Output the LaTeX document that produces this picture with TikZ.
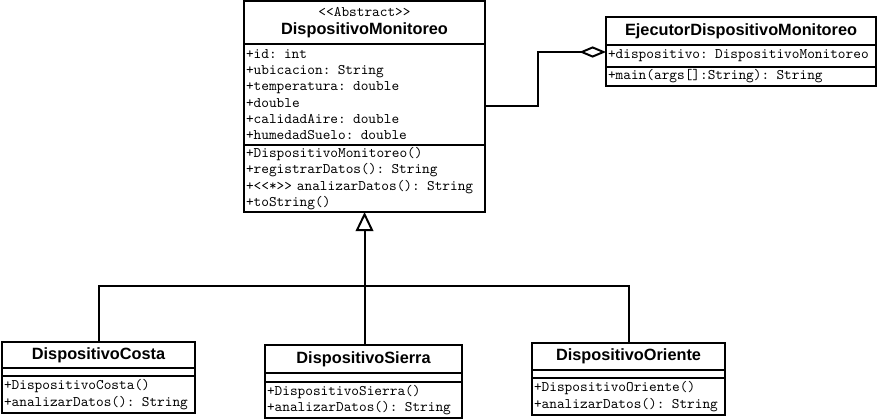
\documentclass[tikz,border=0pt]{standalone}
\usepackage{fontspec}
\setmainfont{Liberation Sans}
\usetikzlibrary{positioning,arrows.meta}

\tikzset{
  classname/.style={draw, line width=1.4pt, outer sep=0pt, anchor=north west, inner sep=0pt,
    align=center, font=\bfseries\fontsize{11.6}{13}\selectfont},
  members/.style={draw, line width=1.4pt, outer sep=0pt, inner xsep=0.05cm, inner ysep=0pt,
    align=left, font=\ttfamily\fontsize{10.4}{11.6}\selectfont},
  link/.style={line width=1.4pt},
  generalize/.style={link, -{Triangle[open, width=12.5pt, length=13.5pt]}},
  aggregate/.style={link, {Diamond[open, width=8pt, length=19pt]}-},
}

\begin{document}
\begin{tikzpicture}[x=0.025cm, y=-0.025cm]
      \useasboundingbox (0,0) rectangle (880,420);

      % Abstract base class
      \node[classname, minimum width=6.025cm, minimum height=1.075cm] (dm) at (244,1)
        {{\ttfamily\mdseries\fontsize{10.4}{11}\selectfont <{}<Abstract>{}>}\\DispositivoMonitoreo};
      \node[members, below=0pt of dm, text width=5.925cm, minimum height=2.525cm] (dmattr)
        {+id: int\\+ubicacion: String\\+temperatura: double\\+double\\+calidadAire: double\\+humedadSuelo: double};
      \node[members, below=0pt of dmattr, text width=5.925cm, minimum height=1.675cm] (dmmeth)
        {+DispositivoMonitoreo()\\+registrarDatos(): String\\+<{}<*>{}> analizarDatos(): String\\+toString()};

      % Runner class
      \node[classname, minimum width=6.75cm, minimum height=0.7cm] (ej) at (606,17)
        {EjecutorDispositivoMonitoreo};
      \node[members, below=0pt of ej, text width=6.65cm, minimum height=0.55cm] (ejattr)
        {+dispositivo: DispositivoMonitoreo};
      \node[members, below=0pt of ejattr, text width=6.65cm, minimum height=0.475cm] (ejmeth)
        {+main(args[]:String): String};

      % Subclasses
      \node[classname, minimum width=4.825cm, minimum height=0.65cm] (costa) at (2,342)
        {DispositivoCosta};
      \node[members, below=0pt of costa, text width=4.725cm, minimum height=0.2cm] (costaattr) {};
      \node[members, below=0pt of costaattr, text width=4.725cm, minimum height=0.925cm] (costameth)
        {+DispositivoCosta()\\+analizarDatos(): String};

      \node[classname, minimum width=4.925cm, minimum height=0.7cm] (sierra) at (265,345)
        {DispositivoSierra};
      \node[members, below=0pt of sierra, text width=4.825cm, minimum height=0.225cm] (sierraattr) {};
      \node[members, below=0pt of sierraattr, text width=4.825cm, minimum height=0.9cm] (sierrameth)
        {+DispositivoSierra()\\+analizarDatos(): String};

      \node[classname, minimum width=4.825cm, minimum height=0.675cm] (oriente) at (532,343)
        {DispositivoOriente};
      \node[members, below=0pt of oriente, text width=4.725cm, minimum height=0.2cm] (orienteattr) {};
      \node[members, below=0pt of orienteattr, text width=4.725cm, minimum height=0.925cm] (orientemeth)
        {+DispositivoOriente()\\+analizarDatos(): String};

      % Inheritance
      \coordinate (bus) at (dmmeth.south |- 0,286);
      \draw[link] (costa.north) |- (bus);
      \draw[link] (oriente.north) |- (bus);
      \draw[generalize] (dmmeth.south |- sierra.north) -- (dmmeth.south);

      % Aggregation
      \coordinate (elbow) at (538,52);
      \draw[aggregate] (ejattr.west |- elbow) -- (elbow) |- (dmattr.east |- 0,106);
    \end{tikzpicture}
\end{document}
